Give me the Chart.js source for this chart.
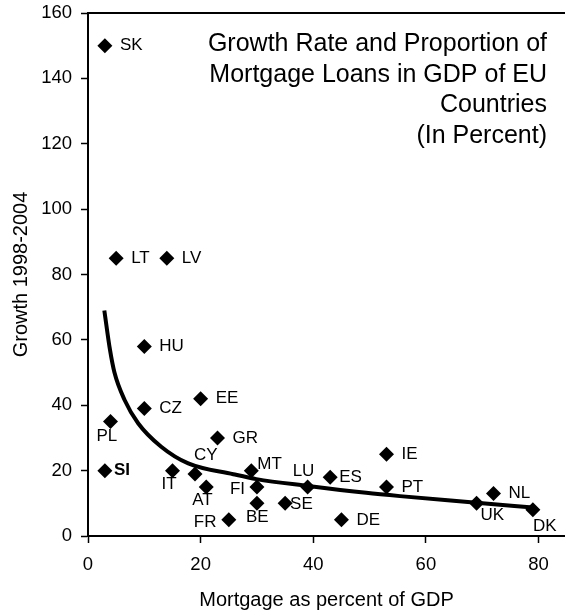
<!DOCTYPE html>
<html>
<head>
<meta charset="utf-8">
<script src="https://cdn.jsdelivr.net/npm/chart.js@4"></script>
<style>
  html, body { margin: 0; padding: 0; background: #fff; overflow: hidden; }
  #wrap { width: 565px; height: 616px; }
</style>
</head>
<body>
<div id="wrap"><canvas id="scatter-chart"></canvas></div>
<script>
  // Data
  const countries = ['SK', 'LT', 'LV', 'HU', 'CZ', 'EE', 'PL', 'SI', 'GR', 'IT', 'CY', 'AT', 'MT', 'FI',
    'BE', 'SE', 'FR', 'DE', 'LU', 'ES', 'IE', 'PT', 'UK', 'NL', 'DK'];
  const mortgageShare = [3, 5, 14, 10, 10, 20, 4, 3, 23, 15, 19, 21, 29, 30, 30, 35, 25, 45, 39, 43, 53, 53, 69, 72, 79];
  const growthRate = [150, 85, 85, 58, 39, 42, 35, 20, 30, 20, 19, 15, 20, 15, 10, 10, 5, 5, 15, 18, 25, 15, 10, 13, 8];

  // trend curve
  const trendX = [2.9, 3.9, 4.7, 6.5, 8.9, 13, 17.8, 25.8, 29.9, 39.1, 49.4, 55.4, 69, 79];
  const trendY = [69, 57, 50, 41.6, 34.5, 27.3, 22.2, 18.9, 17.4, 15.3, 13.2, 12.2, 10.2, 8.7];

  const xTicks = [0, 20, 40, 60, 80];
  const titleLines = ['Growth Rate and Proportion of', 'Mortgage Loans in GDP of EU', 'Countries', '(In Percent)'];

  // label placement: [dx to text left edge, dy to text middle]
  const labelOffsets = {
    SK: [15, 0], LT: [15, 0], LV: [15, 0], HU: [15, 0], CZ: [15, 0], EE: [15, 0],
    PL: [-14, 15], SI: [9, 0], GR: [15, 0], IT: [-11, 14], CY: [-1, -19], AT: [-14, 13],
    MT: [6, -6], FI: [-27, 2], BE: [-11, 14], SE: [5, 1], FR: [-35, 3], DE: [15, 1],
    LU: [-15, -16], ES: [9, 0], IE: [15, 0], PT: [15, 0], UK: [4, 12], NL: [15, 0], DK: [0, 16]
  };
  const FONT = 'Liberation Sans, Arial, sans-serif';

  const labelPlugin = {
    id: 'countryLabels',
    afterDatasetsDraw(chart) {
      const ctx = chart.ctx;
      const meta = chart.getDatasetMeta(1);
      ctx.save();
      ctx.fillStyle = '#000';
      ctx.textBaseline = 'middle';
      ctx.textAlign = 'left';
      meta.data.forEach((pt, i) => {
        const name = countries[i];
        const off = labelOffsets[name];
        ctx.font = (name === 'SI' ? 'bold ' : '') + '17px ' + FONT;
        ctx.fillText(name, pt.x + off[0], pt.y + off[1]);
      });
      ctx.restore();
    },
    afterDraw(chart) {
      const ctx = chart.ctx;
      const area = chart.chartArea;
      ctx.save();
      // top frame line
      ctx.strokeStyle = '#000';
      ctx.lineWidth = 2;
      ctx.beginPath();
      ctx.moveTo(area.left, area.top);
      ctx.lineTo(area.right, area.top);
      ctx.stroke();
      // title
      ctx.fillStyle = '#000';
      ctx.font = '25px ' + FONT;
      ctx.textAlign = 'right';
      ctx.textBaseline = 'middle';
      titleLines.forEach((line, i) => {
        ctx.fillText(line, area.right - 18, area.top + 31 + i * 30.7);
      });
      ctx.restore();
    }
  };

  const ctx = document.getElementById('scatter-chart').getContext('2d');
  const scatterChart = new Chart(ctx, {
    type: 'scatter',
    data: {
      datasets: [
        {
          label: 'Trend',
          type: 'line',
          data: trendX.map((x, i) => ({ x: x, y: trendY[i] })),
          borderColor: '#000',
          borderWidth: 4,
          pointRadius: 0,
          fill: false,
          cubicInterpolationMode: 'monotone'
        },
        {
          label: 'Countries',
          data: mortgageShare.map((x, i) => ({ x: x, y: growthRate[i] })),
          pointStyle: 'rectRot',
          pointRadius: 7.5,
          pointHoverRadius: 7.5,
          backgroundColor: '#000',
          borderColor: '#000',
          borderWidth: 0
        }
      ]
    },
    options: {
      responsive: true,
      maintainAspectRatio: false,
      animation: false,
      layout: { autoPadding: false, padding: { top: 13, right: 0, left: 0, bottom: 0 } },
      plugins: {
        legend: { display: false },
        tooltip: { enabled: false }
      },
      scales: {
        x: {
          type: 'linear',
          min: 0,
          max: 84.7,
          afterBuildTicks: (scale) => { scale.ticks = xTicks.map(v => ({ value: v })); },
          afterFit: (scale) => {
            scale.height = 80;
            scale.paddingLeft = 0;
            scale.paddingRight = 0;
          },
          grid: { drawOnChartArea: false, tickLength: 7, color: '#000', tickWidth: 1.5 },
          border: { color: '#000', width: 2 },
          ticks: { color: '#000', font: { family: FONT, size: 18.5 }, padding: 11, maxRotation: 0 },
          title: {
            display: true,
            text: 'Mortgage as percent of GDP',
            color: '#000',
            font: { family: FONT, size: 20 },
            padding: { top: 0, bottom: 4 }
          }
        },
        y: {
          min: 0,
          max: 160,
          ticks: { stepSize: 20, color: '#000', font: { family: FONT, size: 18.5 }, padding: 9 },
          afterFit: (scale) => {
            scale.width = 88;
            scale.paddingTop = 0;
            scale.paddingBottom = 0;
          },
          grid: { drawOnChartArea: false, tickLength: 7, color: '#000', tickWidth: 1.5 },
          border: { color: '#000', width: 2 },
          title: {
            display: true,
            text: 'Growth 1998-2004',
            color: '#000',
            font: { family: FONT, size: 20 },
            padding: { top: 9, bottom: 0 }
          }
        }
      }
    },
    plugins: [labelPlugin]
  });
</script>
</body>
</html>
